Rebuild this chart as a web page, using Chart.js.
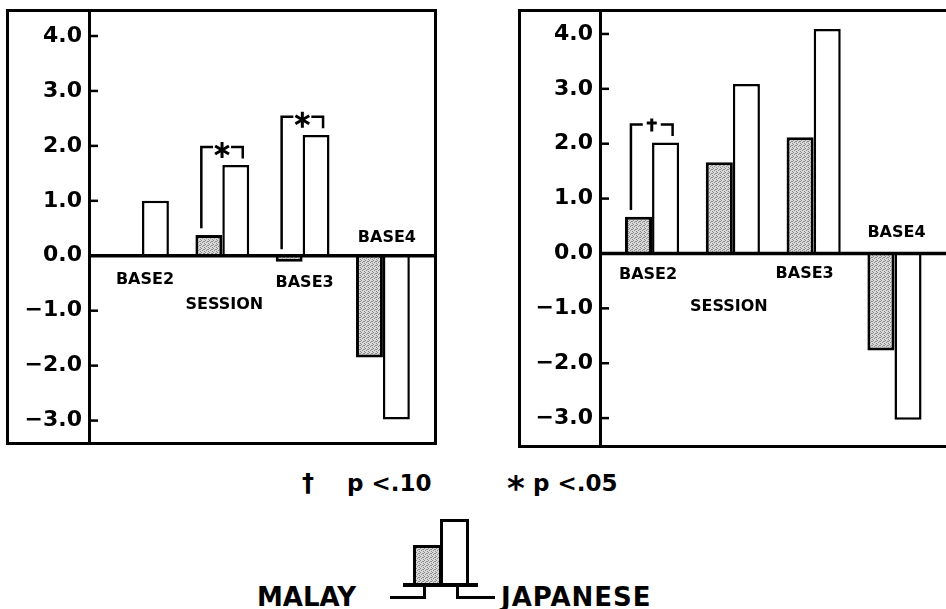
<!DOCTYPE html>
<html>
<head>
<meta charset="utf-8">
<script src="https://cdn.jsdelivr.net/npm/chart.js@4.4.1/dist/chart.umd.min.js"></script>
<style>
  body { margin: 0; width: 946px; height: 609px; overflow: hidden; background: #fff; position: relative;
         font-family: "DejaVu Sans", sans-serif; font-weight: bold; color: #000; }
  .panel { position: absolute; border: 3px solid #000; box-sizing: border-box; overflow: hidden; }
  #pl { left: 6px; top: 9px; width: 431px; height: 436px; }
  #pr { left: 518px; top: 9px; width: 432px; height: 439px; }
  .panel canvas { position: absolute; left: 0; top: 0; }
  .txt { position: absolute; white-space: pre; line-height: 1; }
  .blk { position: absolute; background: #000; }
  .box { position: absolute; border: 3px solid #000; border-bottom: none; box-sizing: border-box; }
</style>
</head>
<body>
<div class="panel" id="pl"><canvas id="left" width="425" height="430"></canvas></div>
<div class="panel" id="pr"><canvas id="right" width="426" height="433"></canvas></div>

<!-- significance key -->
<div class="txt" style="left:302px;top:471px;font-size:24px;">†</div>
<div class="txt" style="left:347px;top:472px;font-size:23px;">p &lt;.10</div>
<div class="txt" style="left:507px;top:471px;font-size:34px;">*</div>
<div class="txt" style="left:533px;top:472px;font-size:23px;">p &lt;.05</div>

<!-- group key -->
<div class="box" id="keyMalay" style="left:413px;top:545px;width:29px;height:39px;"></div>
<div class="box" style="left:440px;top:519px;width:29px;height:65px;background:#fff;"></div>
<div class="blk" style="left:403px;top:583px;width:75px;height:4px;"></div>
<div class="blk" style="left:423px;top:586px;width:3px;height:13px;"></div>
<div class="blk" style="left:390px;top:596px;width:36px;height:3px;"></div>
<div class="blk" style="left:456px;top:586px;width:3px;height:13px;"></div>
<div class="blk" style="left:456px;top:596px;width:39px;height:3px;"></div>
<div class="txt" style="left:257px;top:584px;font-size:26px;">MALAY</div>
<div class="txt" style="left:501px;top:584px;font-size:26px;letter-spacing:1px;">JAPANESE</div>

<script>
// data
const categories = ['BASE2', 'SESSION', 'BASE3', 'BASE4'];
const catIndex = [1, 2, 3, 4];
const yTicks = [-3, -2, -1, 0, 1, 2, 3, 4];

const malayLeft = [null, 0.38, -0.11, -1.85];
const japaneseLeft = [1.0, 1.65, 2.2, -2.98];
const sigLeft = ['', '*', '*', ''];

const malayRight = [0.67, 1.66, 2.12, -1.77];
const japaneseRight = [2.02, 3.09, 4.09, -3.03];
const sigRight = ['†', '', '', ''];

const FONT = '"DejaVu Sans", sans-serif';

// grey stipple like the printed figure
function stipple() {
    const c = document.createElement('canvas');
    c.width = 4; c.height = 4;
    const g = c.getContext('2d');
    g.fillStyle = '#d8d8d8';
    g.fillRect(0, 0, 4, 4);
    g.fillStyle = '#8c8c8c';
    [[0, 0], [2, 1], [1, 2], [3, 3], [3, 1]].forEach(p => g.fillRect(p[0], p[1], 1, 1));
    return c;
}
const stippleCanvas = stipple();
document.getElementById('keyMalay').style.background = 'url(' + stippleCanvas.toDataURL() + ')';

function seg(ctx, x1, y1, x2, y2) {
    ctx.beginPath();
    ctx.moveTo(x1, y1);
    ctx.lineTo(x2, y2);
    ctx.stroke();
}

const decor = {
    id: 'decor',
    afterDatasetsDraw(chart, args, opts) {
        const { ctx, chartArea: a, scales: { x, y } } = chart;
        ctx.save();
        ctx.strokeStyle = '#000';
        ctx.fillStyle = '#000';

        // zero line across the panel
        ctx.lineWidth = 3.5;
        const y0 = y.getPixelForValue(0);
        seg(ctx, a.left, y0, a.right, y0);

        // tick marks point into the plot
        ctx.lineWidth = 2.5;
        yTicks.forEach(v => {
            const py = y.getPixelForValue(v);
            seg(ctx, a.left, py, a.left + 9, py);
        });

        // category names sit next to the bars
        ctx.font = 'bold 16px ' + FONT;
        ctx.textAlign = 'center';
        ctx.textBaseline = 'middle';
        categories.forEach((c, i) => {
            ctx.fillText(c, x.getPixelForValue(catIndex[i]) + opts.labelDx[i], y.getPixelForValue(opts.labelY[i]));
        });

        // significance brackets
        const mal = chart.data.datasets[0].data;
        const jap = chart.data.datasets[1].data;
        const meta = chart.getDatasetMeta(1);
        ctx.lineWidth = 2.5;
        opts.sig.forEach((s, i) => {
            if (!s) return;
            const bar = meta.data[i];
            const w = bar.width;
            const mv = mal[i].y || 0, jv = jap[i].y;
            const xl = bar.x - w - 0.28 * w;
            const xr = bar.x + 0.26 * w;
            const xm = (xl + xr) / 2;
            const top = y.getPixelForValue(Math.max(mv, jv) + 0.33);
            const le = y.getPixelForValue(Math.max(mv, 0) + 0.12);
            const re = y.getPixelForValue(Math.max(jv, 0) + 0.12);
            ctx.beginPath();
            ctx.moveTo(xl, le);
            ctx.lineTo(xl, top);
            ctx.lineTo(xm - 9, top);
            ctx.moveTo(xm + 9, top);
            ctx.lineTo(xr, top);
            ctx.lineTo(xr, re);
            ctx.stroke();
            if (s === '*') {
                ctx.lineWidth = 3;
                const cy = top + 3, r = 8;
                [90, 30, 150].forEach(d => {
                    const t = d * Math.PI / 180;
                    seg(ctx, xm - r * Math.cos(t), cy - r * Math.sin(t), xm + r * Math.cos(t), cy + r * Math.sin(t));
                });
                ctx.lineWidth = 2.5;
            } else {
                ctx.lineWidth = 3;
                seg(ctx, xm, top - 6, xm, top + 7);
                seg(ctx, xm - 5, top - 1.5, xm + 5, top - 1.5);
                ctx.lineWidth = 2.5;
            }
        });
        ctx.restore();
    }
};

function makeChart(id, malay, japanese, sig, cfg) {
    const canvas = document.getElementById(id);
    const pattern = canvas.getContext('2d').createPattern(stippleCanvas, 'repeat');
    return new Chart(canvas, {
        type: 'bar',
        data: {
            datasets: [
                {
                    label: 'MALAY',
                    data: catIndex.map((c, i) => ({ x: c, y: malay[i] })),
                    backgroundColor: pattern,
                    borderColor: '#000',
                    borderWidth: 3
                },
                {
                    label: 'JAPANESE',
                    data: catIndex.map((c, i) => ({ x: c, y: japanese[i] })),
                    backgroundColor: '#fff',
                    borderColor: '#000',
                    borderWidth: 2.5
                }
            ]
        },
        options: {
            responsive: false,
            animation: false,
            devicePixelRatio: 1,
            categoryPercentage: 0.67,
            barPercentage: 1,
            layout: { padding: 0 },
            plugins: {
                legend: { display: false },
                tooltip: { enabled: false },
                decor: { sig: sig, labelDx: cfg.labelDx, labelY: cfg.labelY }
            },
            scales: {
                x: {
                    type: 'linear',
                    display: false,
                    offset: false,
                    min: cfg.xMin,
                    max: cfg.xMax,
                    afterBuildTicks: s => { s.ticks = catIndex.map(v => ({ value: v })); }
                },
                y: {
                    min: cfg.yMin,
                    max: cfg.yMax,
                    afterFit: s => {
                        s.width = cfg.axisW;
                        s.paddingTop = 0;
                        s.paddingBottom = 0;
                    },
                    afterBuildTicks: s => { s.ticks = yTicks.map(v => ({ value: v })); },
                    grid: { display: false, drawTicks: false },
                    border: { display: true, color: '#000', width: 3 },
                    ticks: {
                        color: '#000',
                        padding: 7,
                        font: { family: FONT, size: 22, weight: 'bold' },
                        callback: v => (v < 0 ? '\u2212' : '') + Math.abs(v).toFixed(1)
                    }
                }
            }
        },
        plugins: [decor]
    });
}

makeChart('left', malayLeft, japaneseLeft, sigLeft, {
    xMin: 0.34, xMax: 4.636, yMin: -3.39, yMax: 4.437, axisW: 80,
    labelDx: [3, 2, 2, 4], labelY: [-0.44, -0.9, -0.5, 0.32]
});
makeChart('right', malayRight, japaneseRight, sigRight, {
    xMin: 0.356, xMax: 4.65, yMin: -3.49, yMax: 4.40, axisW: 79,
    labelDx: [-4, -4, -9, 2], labelY: [-0.39, -0.97, -0.37, 0.37]
});
</script>
</body>
</html>
